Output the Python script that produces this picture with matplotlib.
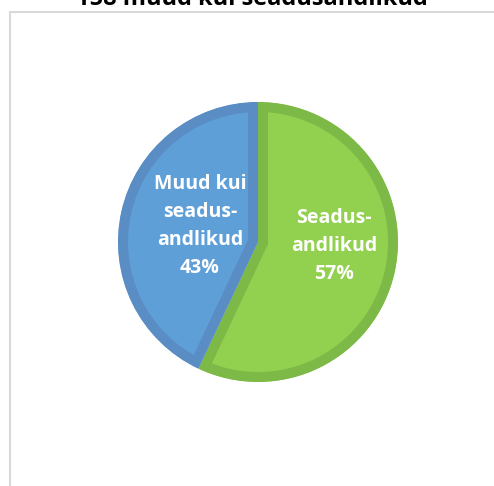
import matplotlib
matplotlib.use("Agg")
import matplotlib.pyplot as plt
from matplotlib.patches import Rectangle

# data
labels = ["Seadus-\nandlikud\n57%", "Muud kui\nseadus-\nandlikud\n43%"]
values = [57, 43]
fill_colors = ["#92D050", "#5F9FD7"]
edge_colors = ["#7DB946", "#5A8DC4"]
title = "158 muud kui seadusandlikud"

W, H = 494, 486
fig = plt.figure(figsize=(W / 100, H / 100), dpi=100)

# grey chart-area frame (cropped screenshot: only left & top visible)
fig.patches.append(Rectangle((10 / W, -0.1), 1.2, (H - 12) / H + 0.1,
                             transform=fig.transFigure, fill=False,
                             edgecolor="#D9D9D9", linewidth=1.5))

fig.text(252 / W, 1 - 5 / H, title, ha="center", va="baseline",
         fontsize=17, fontweight="bold", family="Open Sans", color="black")

cx, cy, r = 258, 242, 140
border = 10  # px, drawn inside each slice
ax = fig.add_axes([(cx - r) / W, (H - cy - r) / H, 2 * r / W, 2 * r / H])
wedges, _ = ax.pie(values, startangle=90, counterclock=False,
                   colors=fill_colors, radius=1.0)
for w, ec in zip(wedges, edge_colors):
    w.set_edgecolor(ec)
    w.set_linewidth(2 * border * 0.72)
    w.set_clip_on(True)
    w.set_clip_path(w)  # keep only the inner half of the stroke
ax.set_xlim(-1.0, 1.0)
ax.set_ylim(-1.0, 1.0)
ax.set_aspect("equal")
ax.axis("off")

fig.text(334 / W, 1 - 246 / H, labels[0], ha="center", va="center",
         fontsize=14, fontweight="bold", family="Open Sans", color="white",
         linespacing=1.55)
fig.text(200 / W, 1 - 226 / H, labels[1], ha="center", va="center",
         fontsize=14, fontweight="bold", family="Open Sans", color="white",
         linespacing=1.55)

fig.savefig("out.png", dpi=100)
